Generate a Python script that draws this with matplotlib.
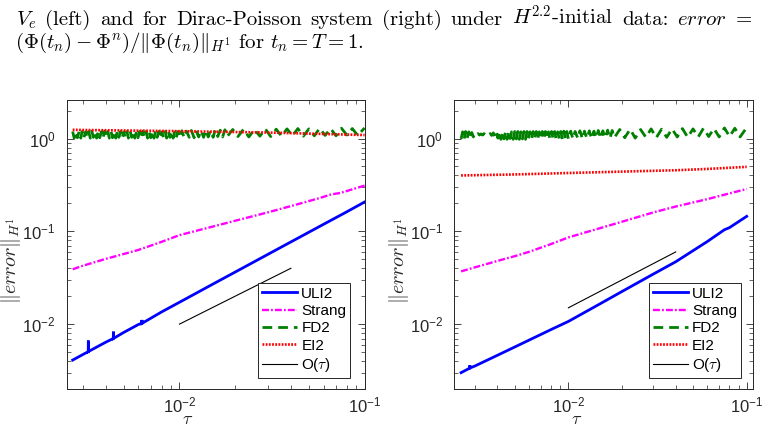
import matplotlib
matplotlib.use('Agg')
import matplotlib.pyplot as plt
from matplotlib.ticker import LogLocator, NullFormatter, LogFormatterSciNotation
from matplotlib.lines import Line2D

plt.rcParams['font.family'] = ['Liberation Sans', 'DejaVu Sans']
plt.rcParams['mathtext.fontset'] = 'custom'
plt.rcParams['mathtext.rm'] = 'Liberation Sans'
plt.rcParams['mathtext.it'] = 'Liberation Sans:italic'
plt.rcParams['mathtext.bf'] = 'Liberation Sans:bold'
plt.rcParams['mathtext.sf'] = 'Liberation Sans'
plt.rcParams['lines.scale_dashes'] = False

# ---------------- data: left panel ----------------
tau_left = [0.00265, 0.003, 0.003215, 0.00322, 0.003225, 0.004, 0.00439, 0.0044, 0.00441,
            0.005, 0.006, 0.00626, 0.00627, 0.00628, 0.008, 0.01, 0.015, 0.02, 0.03,
            0.04, 0.06, 0.08, 0.1]
uli2_left = [0.0041, 0.00469, 0.00505, 0.00665, 0.00507, 0.00639, 0.0070, 0.0083, 0.00702,
             0.00814, 0.00991, 0.0102, 0.0111, 0.0102, 0.01352, 0.0172, 0.0267, 0.0364, 0.0564,
             0.0769, 0.119, 0.162, 0.207]

tau_strang_left = [0.00265, 0.003, 0.004, 0.005, 0.006, 0.008, 0.01, 0.015, 0.02, 0.03,
                   0.04, 0.0575, 0.066, 0.074, 0.1]
strang_left = [0.039, 0.0425, 0.0505, 0.057, 0.063, 0.077, 0.091, 0.112, 0.130, 0.160,
               0.187, 0.229, 0.250, 0.259, 0.311]

tau_ei_left = [0.00265, 0.01, 0.03, 0.1]
ei2_left = [1.24, 1.20, 1.16, 1.09]

tau_ref_left = [0.01, 0.04]
ref_left = [0.01, 0.04]

# ---------------- data: right panel ----------------
tau_right = [0.0025, 0.00279, 0.0028, 0.00281, 0.003, 0.004, 0.005, 0.006, 0.008, 0.01,
             0.015, 0.02, 0.03, 0.04, 0.06, 0.075, 0.08, 0.1]
uli2_right = [0.0030, 0.00335, 0.0036, 0.00337, 0.00355, 0.00462, 0.00567, 0.00671, 0.00875,
              0.0107, 0.0165, 0.0225, 0.0347, 0.0470, 0.0774, 0.104, 0.1095, 0.145]

tau_strang_right = [0.0025, 0.003, 0.004, 0.005, 0.006, 0.008, 0.01, 0.015, 0.02, 0.03,
                    0.04, 0.06, 0.08, 0.1]
strang_right = [0.037, 0.041, 0.048, 0.054, 0.060, 0.073, 0.086, 0.108, 0.127, 0.160,
                0.185, 0.222, 0.256, 0.286]

tau_ei_right = [0.0025, 0.005, 0.01, 0.02, 0.04, 0.06, 0.1]
ei2_right = [0.40, 0.41, 0.425, 0.44, 0.455, 0.47, 0.495]

tau_ref_right = [0.01, 0.04]
ref_right = [0.015, 0.06]

# ---------------- FD2 (oscillating) ----------------
tau_fd = [0.00250, 0.00255, 0.00260, 0.00265, 0.00270, 0.00276, 0.00281, 0.00287, 0.00293, 0.00298,
          0.00304, 0.00311, 0.00317, 0.00323, 0.00330, 0.00336, 0.00343, 0.00350, 0.00357, 0.00364,
          0.00371, 0.00379, 0.00386, 0.00394, 0.00402, 0.00410, 0.00418, 0.00427, 0.00435, 0.00444,
          0.00453, 0.00462, 0.00471, 0.00480, 0.00490, 0.00500, 0.00510, 0.00520, 0.00530, 0.00541,
          0.00552, 0.00563, 0.00574, 0.00586, 0.00597, 0.00609, 0.00622, 0.00634, 0.00647, 0.00660,
          0.00673, 0.00686, 0.00700, 0.00714, 0.00728, 0.00743, 0.00758, 0.00773, 0.00788, 0.00804,
          0.00820, 0.00837, 0.00853, 0.00871, 0.00888, 0.00906, 0.00924, 0.00942, 0.00961, 0.00980,
          0.01000, 0.0103, 0.0106, 0.0109, 0.0113, 0.0116, 0.0120, 0.0123, 0.0127, 0.0131,
          0.0135, 0.0139, 0.0143, 0.0147, 0.0152, 0.0156, 0.0161, 0.0166, 0.0171, 0.0176,
          0.0181, 0.0194, 0.0207, 0.0222, 0.0237, 0.0254, 0.0272, 0.0291, 0.0311, 0.0333,
          0.0356, 0.0381, 0.0408, 0.0436, 0.0467, 0.0500, 0.0535, 0.0572, 0.0612, 0.0655,
          0.0701, 0.0750, 0.0802, 0.0858, 0.0918, 0.1000]

fd2_right = [0.99, 1.18, 0.98, 1.19, 0.99, 1.18, 1.00, 1.16, 1.04,
             1.13, 1.09, 1.13, 1.09, 1.12, 1.09, 1.13, 1.09, 1.12, 1.09, 1.13, 1.08, 1.15, 1.05, 1.17, 1.01,
             1.19, 0.98, 1.18, 0.99, 1.19, 0.98, 1.19, 1.00, 1.18, 0.98, 1.19, 0.99, 1.19, 0.98, 1.18, 0.99,
             1.19, 0.98, 1.19, 1.00, 1.18, 0.98, 1.19, 0.99, 1.19, 0.98, 1.18, 0.99, 1.19, 0.98, 1.19, 1.00,
             1.18, 0.98, 1.19, 0.99, 1.19, 0.98, 1.18, 0.99, 1.19, 0.98, 1.20, 0.99, 1.19, 0.98,
             1.20, 0.99, 1.19, 1.00, 1.21, 0.99, 1.20, 1.00, 1.21, 0.99, 1.20, 1.01, 1.22, 1.00, 1.21, 1.01,
             1.23, 1.00, 1.22, 1.02,
             1.25, 1.02, 1.26, 1.01, 1.25, 1.03, 1.27, 1.02, 1.26, 1.03, 1.27, 1.04, 1.28, 1.03, 1.27, 1.04,
             1.29, 1.05, 1.28, 1.04, 1.30, 1.05, 1.29, 1.04, 1.31]

fd2_left = [1.19, 1.01, 1.18, 1.02, 1.19, 1.01,
            1.19, 1.01, 1.18, 1.02, 1.19, 1.01, 1.20, 1.03, 1.19, 1.01, 1.18, 1.02, 1.19, 1.01,
            1.20, 1.03, 1.19, 1.01, 1.18, 1.02, 1.19, 1.01, 1.20, 1.03, 1.19, 1.01, 1.18, 1.02,
            1.19, 1.01, 1.20, 1.03, 1.19, 1.01, 1.18, 1.02, 1.19, 1.01, 1.20, 1.03, 1.19, 1.01,
            1.18, 1.02, 1.19, 1.01, 1.20, 1.03, 1.19, 1.01, 1.18, 1.02, 1.19, 1.01, 1.20, 1.03,
            1.19, 1.01, 1.18, 1.02, 1.19, 1.02,
            1.21, 1.02, 1.20, 1.03, 1.22, 1.02, 1.21, 1.04, 1.22, 1.03, 1.23, 1.04, 1.22, 1.03,
            1.24, 1.05, 1.23, 1.04, 1.24, 1.05,
            1.25, 1.05, 1.26, 1.04, 1.25, 1.06, 1.27, 1.05, 1.26, 1.06, 1.27, 1.07, 1.28, 1.06,
            1.27, 1.07, 1.29, 1.08, 1.28, 1.07, 1.29, 1.09, 1.28, 1.08, 1.30]

tau_fd_left = tau_fd[len(tau_fd) - len(fd2_left):]
n_r = min(len(tau_fd), len(fd2_right))

labels = ['ULI2', 'Strang', 'FD2', 'EI2', r'O($\tau$)']

caption_words = [r'$V_e$', '(left)', 'and', 'for', 'Dirac-Poisson', 'system', '(right)',
                 'under', r'$H^{2.2}$-initial', 'data:', r'$error$', '=']
caption_line2 = r'$(\Phi(t_n)-\Phi^n)/\|\Phi(t_n)\|_{H^1}$ for $t_n=T=1$.'

# ---------------- styles ----------------
C_FRAME = (0.15, 0.15, 0.15)
st_uli = dict(color='#0000ff', lw=2.0, solid_joinstyle='miter')
st_str = dict(color='#ff00ff', lw=1.7, dashes=(5.0, 1.5, 1.3, 1.5))
st_fd = dict(color='#008000', lw=2.0, dashes=(7.0, 4.3))
st_ei = dict(color='#ff0000', lw=1.9, dashes=(1.3, 1.0))
st_ref = dict(color='black', lw=0.8)

W, H = 763, 429
fig = plt.figure(figsize=(W / 100, H / 100), dpi=100)
axL = fig.add_axes([66.7 / W, 40 / H, 298.3 / W, 289 / H])
axR = fig.add_axes([454.3 / W, 40 / H, 298.7 / W, 289 / H])


def style(ax, xlim):
    ax.set_xscale('log')
    ax.set_yscale('log')
    ax.set_xlim(*xlim)
    ax.set_ylim(0.002, 2.6)
    for a in (ax.xaxis, ax.yaxis):
        a.set_major_locator(LogLocator(base=10))
        a.set_minor_locator(LogLocator(base=10, subs=range(2, 10)))
        a.set_major_formatter(LogFormatterSciNotation())
        a.set_minor_formatter(NullFormatter())
    ax.tick_params(which='both', direction='in', top=True, right=True,
                   color=C_FRAME, labelcolor=C_FRAME)
    ax.tick_params(which='major', length=5, width=0.6, labelsize=12)
    ax.tick_params(which='minor', length=2.6, width=0.5)
    ax.tick_params(axis='x', pad=5)
    ax.tick_params(axis='y', pad=8)
    for s in ax.spines.values():
        s.set_color(C_FRAME)
        s.set_linewidth(0.7)


# left panel
axL.plot(tau_left, uli2_left, **st_uli, zorder=3)
axL.plot(tau_strang_left, strang_left, **st_str, zorder=3)
axL.plot(tau_fd_left, fd2_left, **st_fd, zorder=3)
axL.plot(tau_ei_left, ei2_left, **st_ei, zorder=4)
axL.plot(tau_ref_left, ref_left, **st_ref, zorder=3)
style(axL, (0.00246, 0.1005))

# right panel
axR.plot(tau_right, uli2_right, **st_uli, zorder=3)
axR.plot(tau_strang_right, strang_right, **st_str, zorder=3)
axR.plot(tau_fd[:n_r], fd2_right[:n_r], **st_fd, zorder=3)
axR.plot(tau_ei_right, ei2_right, **st_ei, zorder=4)
axR.plot(tau_ref_right, ref_right, **st_ref, zorder=3)
style(axR, (0.00229, 0.1085))

handles = [Line2D([], [], **st_uli), Line2D([], [], **st_str), Line2D([], [], **st_fd),
           Line2D([], [], **st_ei), Line2D([], [], **st_ref)]

for ax, xr, xl in ((axL, 0.95, 0.405), (axR, 0.96, 0.408)):
    leg = ax.legend(handles, labels, loc='lower right', bbox_to_anchor=(xr, 0.038),
                    fontsize=11, frameon=True, fancybox=False, framealpha=1,
                    edgecolor=C_FRAME, handlelength=2.35, handletextpad=0.25,
                    borderpad=0.25, labelspacing=0.22, borderaxespad=0)
    leg.get_frame().set_linewidth(0.7)
    leg.get_texts()[4].set_math_fontfamily('cm')
    ax.text(-0.186, 0.443, r'$\|error\|_{H^1}$', transform=ax.transAxes, rotation=90,
            ha='center', va='center', fontsize=14.5, color=C_FRAME, math_fontfamily='cm')
    ax.text(xl, -0.106, r'$\tau$', transform=ax.transAxes, ha='center', va='center',
            fontsize=13, color=C_FRAME, math_fontfamily='cm')

# caption text (line 1 justified between x=16 and x=752)
cap = dict(fontsize=15, family='cmr10', va='baseline', math_fontfamily='cm')
renderer = fig.canvas.get_renderer()
word_texts = [fig.text(0, 1 - 25 / H, w, ha='left', **cap) for w in caption_words]
widths = [t.get_window_extent(renderer).width for t in word_texts]
gap = (736 - sum(widths)) / (len(caption_words) - 1)
xpos = 16.0
for t, wdt in zip(word_texts, widths):
    t.set_x(xpos / W)
    xpos += wdt + gap
fig.text(15 / W, 1 - 48 / H, caption_line2, ha='left', **cap)

fig.savefig('out.png', dpi=100)
